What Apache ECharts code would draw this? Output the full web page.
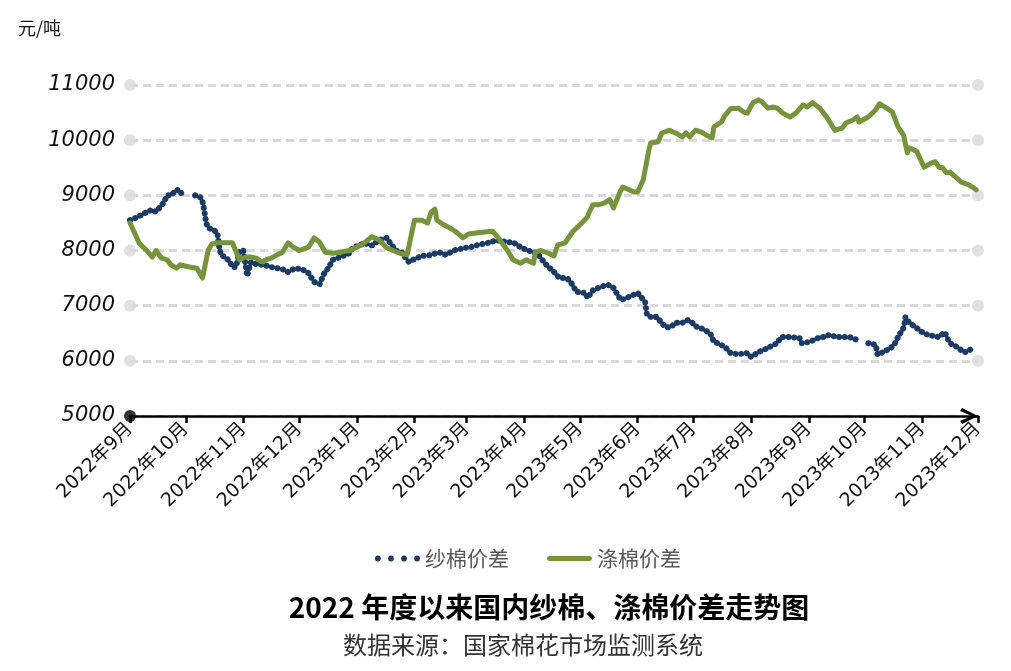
<!DOCTYPE html>
<html>
<head>
<meta charset="utf-8">
<script src="https://cdn.jsdelivr.net/npm/echarts@6/dist/echarts.min.js"></script>
<style>html,body{margin:0;padding:0;background:#fff}#c{width:1011px;height:671px}</style>
</head>
<body>
<div id="c"></div>
<script>
// ---- data ----
const monthStarts = ['2022-09-01','2022-10-01','2022-11-01','2022-12-01','2023-01-01','2023-02-01','2023-03-01','2023-04-01','2023-05-01','2023-06-01','2023-07-01','2023-08-01','2023-09-01','2023-10-01','2023-11-01','2023-12-01'];
const monthLabels = ['2022年9月','2022年10月','2022年11月','2022年12月','2023年1月','2023年2月','2023年3月','2023年4月','2023年5月','2023年6月','2023年7月','2023年8月','2023年9月','2023年10月','2023年11月','2023年12月'];
const yTickValues = [5000, 6000, 7000, 8000, 9000, 10000, 11000];

const yarnSpread = [ // 纱棉价差
['2022-09-01',8550],['2022-09-04',8590],['2022-09-07',8640],['2022-09-09',8680],['2022-09-13',8740],['2022-09-15',8700],['2022-09-19',8860],['2022-09-21',9000],['2022-09-23',9000],['2022-09-26',9100],['2022-09-28',9090],['2022-09-29',9000],['2022-10-03',null],
['2022-10-06',9000],['2022-10-09',8960],['2022-10-10',8880],['2022-10-11',8720],['2022-10-12',8500],['2022-10-13',8410],['2022-10-16',8370],['2022-10-18',8320],['2022-10-19',8050],['2022-10-20',7920],['2022-10-23',7860],['2022-10-25',7770],['2022-10-26',7700],['2022-10-28',7700],['2022-10-30',8000],['2022-11-01',8000],['2022-11-03',7540],['2022-11-05',7790],['2022-11-08',7750],['2022-11-12',7740],['2022-11-16',7700],['2022-11-19',7680],['2022-11-23',7650],['2022-11-25',7610],['2022-11-29',7680],
['2022-12-03',7650],['2022-12-06',7590],['2022-12-09',7430],['2022-12-12',7390],['2022-12-14',7560],['2022-12-17',7700],['2022-12-19',7830],['2022-12-23',7880],['2022-12-28',7950],['2022-12-30',8060],['2023-01-02',8080],['2023-01-05',8140],['2023-01-09',8090],['2023-01-13',8190],['2023-01-17',8230],['2023-01-19',8130],['2023-01-22',8000],['2023-01-25',7970],['2023-01-29',7790],['2023-01-31',7830],
['2023-02-02',7860],['2023-02-05',7900],['2023-02-10',7920],['2023-02-14',7970],['2023-02-18',7920],['2023-02-22',8000],['2023-02-27',8040],['2023-03-03',8060],['2023-03-07',8100],['2023-03-08',8100],['2023-03-14',8150],['2023-03-17',8190],['2023-03-23',8150],['2023-03-26',8150],['2023-03-30',8060],['2023-04-03',8000],['2023-04-08',7950],['2023-04-12',7770],['2023-04-17',7610],['2023-04-20',7500],['2023-04-24',7500],['2023-04-27',7380],['2023-04-29',7250],
['2023-05-04',7230],['2023-05-05',7140],['2023-05-08',7280],['2023-05-12',7340],['2023-05-16',7380],['2023-05-19',7320],['2023-05-23',7100],['2023-05-26',7140],['2023-06-01',7230],['2023-06-05',7070],['2023-06-06',6830],['2023-06-09',6780],['2023-06-11',6800],['2023-06-16',6610],['2023-06-19',6610],['2023-06-21',6690],['2023-06-25',6690],['2023-06-28',6740],['2023-06-30',6700],
['2023-07-03',6610],['2023-07-06',6580],['2023-07-10',6500],['2023-07-12',6340],['2023-07-14',6320],['2023-07-18',6250],['2023-07-21',6140],['2023-07-25',6120],['2023-07-30',6140],['2023-08-01',6070],['2023-08-05',6160],['2023-08-08',6200],['2023-08-12',6270],['2023-08-15',6320],['2023-08-17',6430],['2023-08-20',6430],['2023-08-23',6430],['2023-08-27',6410],['2023-08-28',6320],
['2023-09-01',6340],['2023-09-04',6380],['2023-09-07',6430],['2023-09-09',6430],['2023-09-12',6470],['2023-09-16',6430],['2023-09-19',6430],['2023-09-23',6430],['2023-09-27',6380],['2023-09-30',null],
['2023-10-03',6320],['2023-10-07',6290],['2023-10-08',6110],['2023-10-11',6160],['2023-10-15',6230],['2023-10-17',6290],['2023-10-19',6430],['2023-10-22',6600],['2023-10-23',6790],['2023-10-25',6690],['2023-10-28',6620],['2023-11-01',6520],['2023-11-04',6470],['2023-11-07',6450],['2023-11-10',6430],['2023-11-13',6520],['2023-11-15',6380],['2023-11-17',6290],['2023-11-20',6250],['2023-11-23',6160],['2023-11-25',6160],['2023-11-28',6230]
];

const polySpread = [ // 涤棉价差
['2022-09-01',8500],['2022-09-06',8130],['2022-09-10',8000],['2022-09-13',7880],['2022-09-15',8000],['2022-09-18',7860],['2022-09-21',7830],['2022-09-23',7740],['2022-09-26',7680],['2022-09-28',7740],['2022-10-03',7700],['2022-10-07',7680],['2022-10-10',7500],['2022-10-11',7500],['2022-10-13',8000],['2022-10-15',8120],['2022-10-18',8140],['2022-10-26',8140],['2022-10-27',8120],['2022-10-30',7830],
['2022-11-02',7880],['2022-11-05',7880],['2022-11-08',7860],['2022-11-11',7790],['2022-11-13',7830],['2022-11-16',7860],['2022-11-19',7920],['2022-11-22',7970],['2022-11-25',8140],['2022-11-27',8080],['2022-12-01',8000],['2022-12-06',8060],['2022-12-09',8230],['2022-12-12',8150],['2022-12-15',7970],['2022-12-19',7950],['2022-12-23',7970],['2022-12-28',8000],
['2023-01-04',8110],['2023-01-09',8250],['2023-01-10',8280],['2023-01-13',8190],['2023-01-17',8050],['2023-01-24',7950],['2023-01-28',7920],['2023-01-31',8400],['2023-02-01',8550],['2023-02-05',8550],['2023-02-08',8500],['2023-02-10',8700],['2023-02-12',8750],['2023-02-13',8550],['2023-02-16',8480],['2023-02-21',8390],['2023-02-24',8320],['2023-02-27',8230],
['2023-03-02',8300],['2023-03-07',8320],['2023-03-12',8340],['2023-03-15',8350],['2023-03-18',8230],['2023-03-23',8000],['2023-03-26',7830],['2023-03-30',7770],['2023-04-02',7830],['2023-04-06',7770],['2023-04-07',7970],['2023-04-10',8000],['2023-04-14',7950],['2023-04-17',7900],['2023-04-19',8100],['2023-04-23',8140],['2023-04-27',8340],
['2023-05-02',8500],['2023-05-05',8610],['2023-05-06',8700],['2023-05-08',8830],['2023-05-11',8830],['2023-05-14',8860],['2023-05-17',8920],['2023-05-19',8770],['2023-05-23',9100],['2023-05-24',9150],['2023-05-30',9060],['2023-06-01',9060],['2023-06-04',9280],['2023-06-06',9640],['2023-06-07',9820],['2023-06-08',9950],['2023-06-12',9970],['2023-06-14',10130],['2023-06-18',10180],['2023-06-22',10120],['2023-06-25',10060],['2023-06-27',10130],['2023-06-29',10060],
['2023-07-02',10180],['2023-07-05',10150],['2023-07-08',10090],['2023-07-11',10040],['2023-07-12',10240],['2023-07-16',10330],['2023-07-18',10450],['2023-07-21',10570],['2023-07-25',10580],['2023-07-28',10510],['2023-07-30',10490],['2023-08-02',10680],['2023-08-05',10730],['2023-08-07',10690],['2023-08-10',10580],['2023-08-13',10600],['2023-08-15',10580],['2023-08-18',10490],['2023-08-22',10420],['2023-08-25',10490],['2023-08-29',10640],['2023-08-31',10600],
['2023-09-03',10680],['2023-09-07',10580],['2023-09-11',10400],['2023-09-15',10180],['2023-09-19',10220],['2023-09-21',10310],['2023-09-25',10370],['2023-09-27',10420],['2023-09-28',10330],['2023-10-03',10420],['2023-10-07',10550],['2023-10-09',10660],['2023-10-12',10600],['2023-10-16',10510],['2023-10-19',10240],['2023-10-22',10090],['2023-10-24',9770],['2023-10-25',9860],['2023-10-29',9800],['2023-10-30',9730],
['2023-11-02',9510],['2023-11-06',9590],['2023-11-08',9610],['2023-11-10',9510],['2023-11-12',9500],['2023-11-14',9410],['2023-11-16',9420],['2023-11-19',9330],['2023-11-22',9240],['2023-11-26',9190],['2023-11-28',9150],['2023-11-30',9100]
];

const seriesNames = ['纱棉价差', '涤棉价差'];
const titleText = '2022 年度以来国内纱棉、涤棉价差走势图';
const sourceText = '数据来源：国家棉花市场监测系统';
const unitText = '元/吨';

// ---- helpers ----
const DAY = 86400000;
const t0 = Date.parse(monthStarts[0] + 'T00:00:00Z');
const dayOf = d => Math.round((Date.parse(d + 'T00:00:00Z') - t0) / DAY);
const tickDays = monthStarts.map(dayOf);
const xMax = tickDays[tickDays.length - 1];
const toXY = arr => arr.map(p => [dayOf(p[0]), p[1]]);

const cjk = '"Noto Sans CJK SC", "Noto Sans", sans-serif';
const mixed = '"DejaVu Sans", "Noto Sans CJK SC", sans-serif';

const gridDotsL = yTickValues.slice(1).map(v => [0, v]);
const gridDotsR = yTickValues.slice(1).map(v => [xMax, v]);

const BLUE = '#1B3A64';
const GREEN = '#77933C';
const dotIcon = 'path://M0,3 A3,3 0 1,0 6,3 A3,3 0 1,0 0,3 Z M13.5,3 A3,3 0 1,0 19.5,3 A3,3 0 1,0 13.5,3 Z M27,3 A3,3 0 1,0 33,3 A3,3 0 1,0 27,3 Z M40.5,3 A3,3 0 1,0 46.5,3 A3,3 0 1,0 40.5,3 Z';
const barIcon = 'path://M2.5,0 L43.5,0 A2.5,2.5 0 0,1 43.5,5 L2.5,5 A2.5,2.5 0 0,1 2.5,0 Z';

const chart = echarts.init(document.getElementById('c'), null, {renderer: 'canvas'});
chart.setOption({
  animation: false,
  backgroundColor: '#fff',
  grid: {left: 130, right: 33, top: 85, bottom: 255, containLabel: false},
  legend: {
    left: 370, top: 543,
    itemWidth: 45, itemHeight: 14, itemGap: 38,
    textStyle: {fontFamily: cjk, fontSize: 21, color: '#595959'},
    data: [
      {name: seriesNames[0], icon: dotIcon, itemStyle: {color: BLUE}},
      {name: seriesNames[1], icon: barIcon, itemStyle: {color: GREEN}}
    ]
  },
  graphic: [
    {type: 'text', x: 18, y: 28, style: {text: unitText, font: '18px ' + cjk, fill: '#111', align: 'left', verticalAlign: 'middle'}},
    {type: 'text', x: 549, y: 607, style: {text: titleText, font: 'bold 28px ' + cjk, fill: '#000', align: 'center', verticalAlign: 'middle'}},
    {type: 'text', x: 523, y: 645, style: {text: sourceText, font: '24px ' + cjk, fill: '#333', align: 'center', verticalAlign: 'middle'}}
  ],
  xAxis: {
    type: 'value', min: 0, max: xMax,
    splitLine: {show: false},
    axisLine: {
      show: true, onZero: false,
      lineStyle: {color: '#000', width: 2.5},
      symbol: ['none', 'path://M0,16 L8,0 L16,16 L13,18 L8,6 L3,18 Z'],
      symbolSize: [16, 18], symbolOffset: [0, -9]
    },
    axisTick: {show: true, customValues: tickDays, length: 7, lineStyle: {color: '#000', width: 2.5}},
    axisLabel: {
      customValues: tickDays, rotate: 45, margin: 10,
      fontFamily: mixed, fontSize: 19, color: '#111',
      formatter: v => monthLabels[tickDays.indexOf(Math.round(v))] || ''
    }
  },
  yAxis: {
    type: 'value', min: yTickValues[0], max: yTickValues[yTickValues.length - 1], interval: 1000,
    axisLine: {show: false}, axisTick: {show: false},
    axisLabel: {
      fontFamily: '"DejaVu Sans", sans-serif', fontStyle: 'italic', fontSize: 21, color: '#111', margin: 15,
      formatter: v => String(v)
    },
    splitLine: {show: true, lineStyle: {color: '#d9d9d9', width: 3, type: [8, 5]}}
  },
  series: [
    {
      type: 'scatter', silent: true, clip: false, z: 1,
      data: gridDotsL.concat(gridDotsR), symbolSize: 12,
      itemStyle: {color: '#d9d9d9'}
    },
    {
      type: 'scatter', silent: true, clip: false, z: 5,
      data: [[0, yTickValues[0]]], symbolSize: 12,
      itemStyle: {color: '#000'}
    },
    {
      name: seriesNames[0], type: 'line', z: 3,
      data: toXY(yarnSpread), showSymbol: false, symbol: 'none', connectNulls: false,
      itemStyle: {color: BLUE},
      lineStyle: {color: BLUE, width: 6, type: [0.1, 5.5], cap: 'round'}
    },
    {
      name: seriesNames[1], type: 'line', z: 4,
      data: toXY(polySpread), showSymbol: false, symbol: 'none',
      itemStyle: {color: GREEN},
      lineStyle: {color: GREEN, width: 5, join: 'round', cap: 'round'}
    }
  ]
});
</script>
</body>
</html>
